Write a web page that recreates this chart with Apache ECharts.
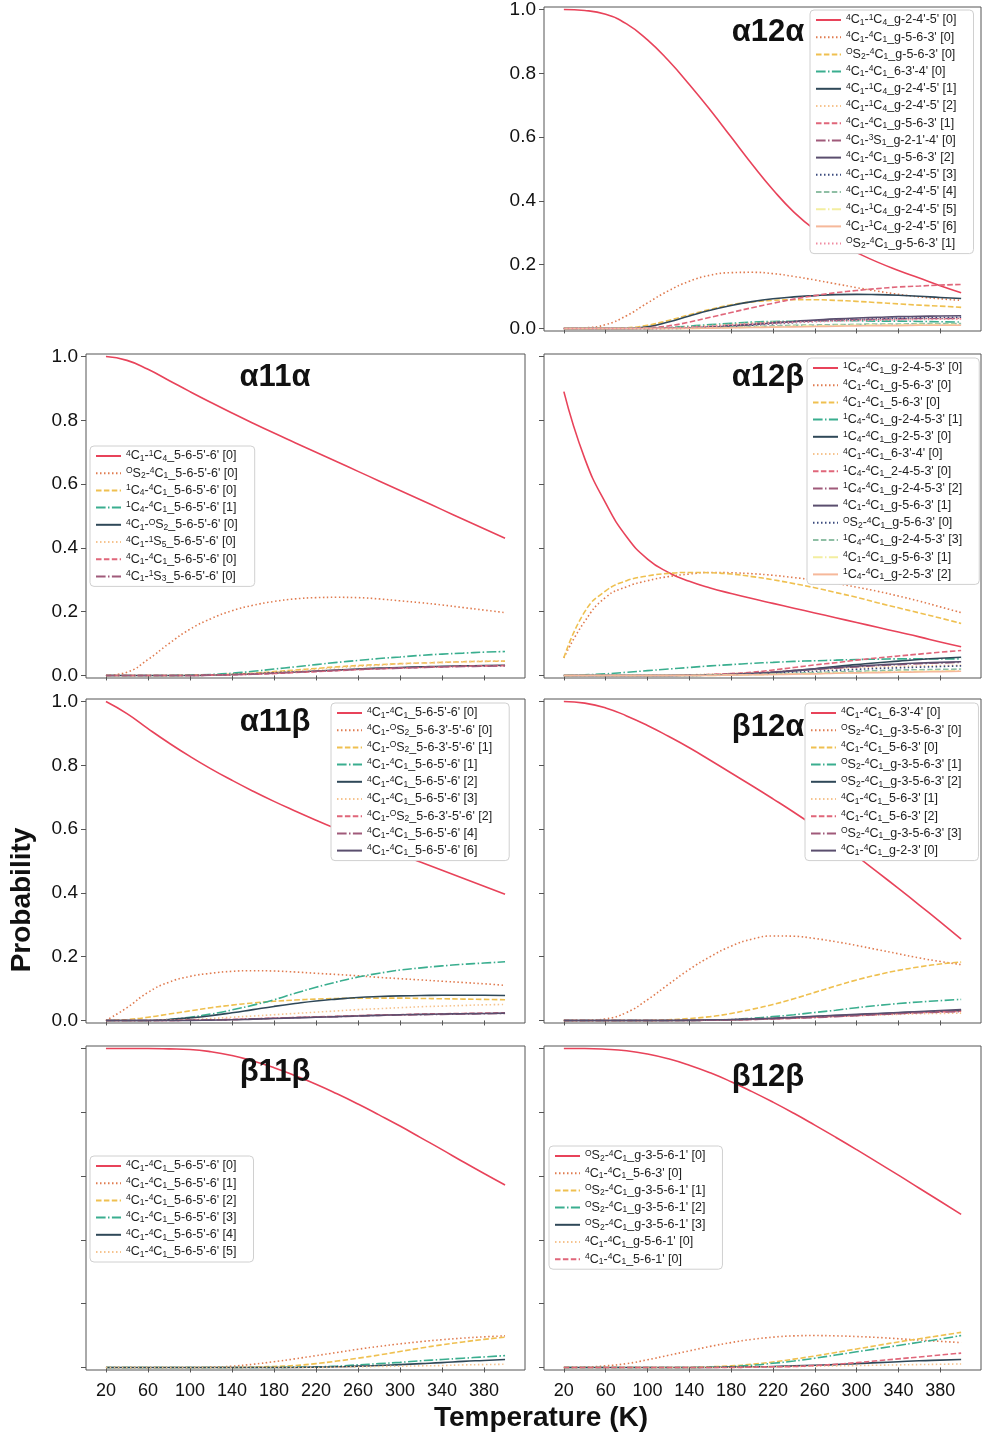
<!DOCTYPE html>
<html><head><meta charset="utf-8">
<script src="https://cdn.jsdelivr.net/npm/echarts@6/dist/echarts.min.js"></script>
<style>html,body{margin:0;padding:0;background:#fff}#c{width:983px;height:1437px}</style>
</head><body><div id="c"></div>
<script>
// ---------------- DATA ----------------
const TEMPS = [20,40,60,80,100,120,140,160,180,200,220,240,260,280,300,320,340,360,380,400];
const X_TICKS = [20,60,100,140,180,220,260,300,340,380];
const Y_TICKS = [0,0.2,0.4,0.6,0.8,1.0];
const PANEL_TITLES = ['α12α','α11α','α12β','α11β','β12α','β11β','β12β'];

const NAMES_A12A = ["⁴C₁-¹C₄_g-2-4'-5' [0]","⁴C₁-⁴C₁_g-5-6-3' [0]","ᴼS₂-⁴C₁_g-5-6-3' [0]","⁴C₁-⁴C₁_6-3'-4' [0]","⁴C₁-¹C₄_g-2-4'-5' [1]","⁴C₁-¹C₄_g-2-4'-5' [2]","⁴C₁-⁴C₁_g-5-6-3' [1]","⁴C₁-³S₁_g-2-1'-4' [0]","⁴C₁-⁴C₁_g-5-6-3' [2]","⁴C₁-¹C₄_g-2-4'-5' [3]","⁴C₁-¹C₄_g-2-4'-5' [4]","⁴C₁-¹C₄_g-2-4'-5' [5]","⁴C₁-¹C₄_g-2-4'-5' [6]","ᴼS₂-⁴C₁_g-5-6-3' [1]"];
const VALS_A12A = [
 [1.0,0.997,0.985,0.955,0.905,0.84,0.765,0.685,0.6,0.515,0.435,0.365,0.31,0.27,0.238,0.208,0.182,0.158,0.134,0.112],
 [0,0.002,0.012,0.04,0.08,0.118,0.148,0.167,0.175,0.176,0.172,0.163,0.152,0.14,0.128,0.117,0.107,0.099,0.093,0.088],
 [0,0,0,0.002,0.01,0.025,0.043,0.06,0.074,0.083,0.088,0.09,0.09,0.088,0.085,0.081,0.077,0.073,0.07,0.066],
 [0,0,0,0,0,0.003,0.007,0.012,0.016,0.02,0.022,0.023,0.024,0.024,0.024,0.023,0.023,0.022,0.021,0.02],
 [0,0,0,0,0.005,0.02,0.039,0.057,0.072,0.084,0.093,0.099,0.103,0.106,0.107,0.106,0.104,0.101,0.097,0.094],
 [0,0,0,0,0,0.002,0.005,0.009,0.013,0.017,0.02,0.022,0.024,0.026,0.027,0.028,0.029,0.03,0.03,0.031],
 [0,0,0,0,0.002,0.008,0.02,0.035,0.05,0.065,0.079,0.092,0.103,0.112,0.119,0.125,0.13,0.133,0.136,0.138],
 [0,0,0,0,0,0.001,0.003,0.006,0.01,0.014,0.018,0.021,0.024,0.026,0.028,0.029,0.03,0.031,0.031,0.032],
 [0,0,0,0,0,0.001,0.002,0.004,0.008,0.012,0.017,0.022,0.026,0.03,0.033,0.035,0.037,0.038,0.039,0.04],
 [0,0,0,0,0,0,0.001,0.003,0.006,0.01,0.014,0.018,0.022,0.025,0.028,0.03,0.032,0.033,0.034,0.035],
 [0,0,0,0,0,0,0.001,0.002,0.004,0.006,0.008,0.01,0.011,0.012,0.013,0.014,0.014,0.015,0.015,0.015],
 [0,0,0,0,0,0,0,0.001,0.002,0.004,0.005,0.007,0.008,0.009,0.01,0.011,0.011,0.012,0.012,0.012],
 [0,0,0,0,0,0,0,0.001,0.002,0.003,0.004,0.005,0.006,0.007,0.008,0.009,0.009,0.01,0.01,0.01],
 [0,0,0,0,0,0.001,0.003,0.006,0.01,0.013,0.016,0.019,0.021,0.023,0.025,0.026,0.027,0.028,0.029,0.03]
];

const NAMES_A11A = ["⁴C₁-¹C₄_5-6-5'-6' [0]","ᴼS₂-⁴C₁_5-6-5'-6' [0]","¹C₄-⁴C₁_5-6-5'-6' [0]","¹C₄-⁴C₁_5-6-5'-6' [1]","⁴C₁-ᴼS₂_5-6-5'-6' [0]","⁴C₁-¹S₅_5-6-5'-6' [0]","⁴C₁-⁴C₁_5-6-5'-6' [0]","⁴C₁-¹S₃_5-6-5'-6' [0]"];
const VALS_A11A = [
 [1.0,0.988,0.96,0.925,0.89,0.856,0.823,0.791,0.76,0.73,0.7,0.67,0.64,0.61,0.58,0.55,0.52,0.49,0.46,0.43],
 [0,0.01,0.05,0.1,0.145,0.178,0.203,0.22,0.232,0.24,0.244,0.245,0.244,0.24,0.234,0.228,0.221,0.213,0.205,0.197],
 [0,0,0,0,0.001,0.002,0.004,0.007,0.012,0.017,0.022,0.027,0.031,0.034,0.037,0.039,0.041,0.043,0.044,0.045],
 [0,0,0,0,0.001,0.003,0.007,0.013,0.02,0.027,0.034,0.041,0.047,0.053,0.058,0.063,0.067,0.07,0.073,0.075],
 [0,0,0,0,0,0.001,0.003,0.005,0.008,0.011,0.014,0.017,0.02,0.023,0.025,0.027,0.029,0.03,0.031,0.032],
 [0,0,0,0,0,0.001,0.003,0.006,0.01,0.014,0.019,0.024,0.028,0.032,0.036,0.039,0.041,0.043,0.045,0.046],
 [0,0,0,0,0,0.001,0.002,0.004,0.006,0.009,0.012,0.015,0.018,0.021,0.023,0.025,0.027,0.029,0.03,0.031],
 [0,0,0,0,0,0.001,0.002,0.004,0.007,0.01,0.013,0.016,0.019,0.021,0.023,0.025,0.027,0.028,0.029,0.03]
];

const NAMES_A12B = ["¹C₄-⁴C₁_g-2-4-5-3' [0]","⁴C₁-⁴C₁_g-5-6-3' [0]","⁴C₁-⁴C₁_5-6-3' [0]","¹C₄-⁴C₁_g-2-4-5-3' [1]","¹C₄-⁴C₁_g-2-5-3' [0]","⁴C₁-⁴C₁_6-3'-4' [0]","¹C₄-⁴C₁_2-4-5-3' [0]","¹C₄-⁴C₁_g-2-4-5-3' [2]","⁴C₁-⁴C₁_g-5-6-3' [1]","ᴼS₂-⁴C₁_g-5-6-3' [0]","¹C₄-⁴C₁_g-2-4-5-3' [3]","⁴C₁-⁴C₁_g-5-6-3' [1]","¹C₄-⁴C₁_g-2-5-3' [2]"];
const VALS_A12B = [
 [0.89,0.68,0.54,0.435,0.365,0.323,0.295,0.274,0.257,0.241,0.226,0.211,0.196,0.181,0.166,0.151,0.136,0.121,0.105,0.09],
 [0.055,0.17,0.245,0.278,0.297,0.31,0.318,0.323,0.322,0.319,0.314,0.307,0.299,0.289,0.277,0.264,0.249,0.233,0.215,0.197],
 [0.055,0.2,0.265,0.297,0.312,0.32,0.323,0.322,0.318,0.31,0.3,0.288,0.275,0.26,0.245,0.228,0.212,0.196,0.18,0.163],
 [0,0.002,0.005,0.01,0.015,0.02,0.025,0.03,0.034,0.038,0.041,0.044,0.046,0.048,0.05,0.051,0.052,0.052,0.052,0.052],
 [0,0,0,0,0,0,0.001,0.002,0.003,0.005,0.009,0.015,0.021,0.028,0.034,0.04,0.045,0.05,0.054,0.057],
 [0,0,0,0,0,0.001,0.002,0.004,0.006,0.009,0.012,0.015,0.018,0.021,0.024,0.026,0.028,0.03,0.031,0.032],
 [0,0,0,0,0,0,0.001,0.003,0.006,0.01,0.017,0.025,0.033,0.04,0.048,0.055,0.061,0.067,0.073,0.078],
 [0,0,0,0,0,0,0.001,0.002,0.004,0.007,0.011,0.015,0.019,0.023,0.027,0.031,0.034,0.037,0.039,0.041],
 [0,0,0,0,0,0,0,0.001,0.003,0.006,0.01,0.015,0.02,0.025,0.029,0.033,0.036,0.039,0.041,0.043],
 [0,0,0,0,0,0,0,0.001,0.002,0.004,0.007,0.01,0.013,0.016,0.019,0.022,0.024,0.026,0.028,0.03],
 [0,0,0,0,0,0,0,0.001,0.002,0.003,0.005,0.007,0.009,0.011,0.013,0.015,0.017,0.018,0.019,0.02],
 [0,0,0,0,0,0,0,0,0.001,0.002,0.003,0.005,0.006,0.008,0.009,0.011,0.012,0.013,0.014,0.015],
 [0,0,0,0,0,0,0,0,0.001,0.002,0.003,0.004,0.005,0.007,0.008,0.009,0.01,0.011,0.012,0.013]
];

const NAMES_A11B = ["⁴C₁-⁴C₁_5-6-5'-6' [0]","⁴C₁-ᴼS₂_5-6-3'-5'-6' [0]","⁴C₁-ᴼS₂_5-6-3'-5'-6' [1]","⁴C₁-⁴C₁_5-6-5'-6' [1]","⁴C₁-⁴C₁_5-6-5'-6' [2]","⁴C₁-⁴C₁_5-6-5'-6' [3]","⁴C₁-ᴼS₂_5-6-3'-5'-6' [2]","⁴C₁-⁴C₁_5-6-5'-6' [4]","⁴C₁-⁴C₁_5-6-5'-6' [6]"];
const VALS_A11B = [
 [1.0,0.962,0.915,0.87,0.828,0.789,0.753,0.719,0.687,0.657,0.628,0.6,0.573,0.547,0.521,0.496,0.471,0.446,0.421,0.396],
 [0,0.04,0.088,0.12,0.138,0.148,0.154,0.156,0.155,0.152,0.148,0.144,0.14,0.135,0.131,0.127,0.123,0.119,0.115,0.11],
 [0,0.003,0.01,0.02,0.03,0.04,0.048,0.055,0.06,0.064,0.067,0.069,0.07,0.07,0.07,0.069,0.068,0.067,0.066,0.065],
 [0,0,0,0.003,0.01,0.02,0.033,0.048,0.065,0.085,0.104,0.121,0.136,0.148,0.158,0.165,0.171,0.176,0.18,0.184],
 [0,0,0,0.003,0.008,0.015,0.024,0.034,0.044,0.053,0.061,0.067,0.072,0.075,0.077,0.078,0.079,0.079,0.079,0.078],
 [0,0,0,0.001,0.003,0.006,0.01,0.014,0.018,0.022,0.026,0.03,0.034,0.037,0.04,0.043,0.045,0.047,0.049,0.05],
 [0,0,0,0,0.001,0.002,0.003,0.005,0.007,0.009,0.011,0.013,0.015,0.017,0.018,0.02,0.021,0.022,0.023,0.024],
 [0,0,0,0,0.001,0.002,0.003,0.005,0.007,0.009,0.011,0.012,0.014,0.016,0.017,0.018,0.019,0.02,0.021,0.022],
 [0,0,0,0,0,0.001,0.002,0.004,0.006,0.008,0.01,0.012,0.014,0.016,0.018,0.019,0.02,0.021,0.022,0.023]
];

const NAMES_B12A = ["⁴C₁-⁴C₁_6-3'-4' [0]","ᴼS₂-⁴C₁_g-3-5-6-3' [0]","⁴C₁-⁴C₁_5-6-3' [0]","ᴼS₂-⁴C₁_g-3-5-6-3' [1]","ᴼS₂-⁴C₁_g-3-5-6-3' [2]","⁴C₁-⁴C₁_5-6-3' [1]","⁴C₁-⁴C₁_5-6-3' [2]","ᴼS₂-⁴C₁_g-3-5-6-3' [3]","⁴C₁-⁴C₁_g-2-3' [0]"];
const VALS_B12A = [
 [1.0,0.995,0.98,0.955,0.925,0.891,0.855,0.816,0.776,0.736,0.695,0.653,0.609,0.563,0.515,0.465,0.414,0.362,0.309,0.255],
 [0,0,0.005,0.025,0.065,0.113,0.16,0.2,0.233,0.255,0.265,0.264,0.257,0.247,0.235,0.222,0.209,0.196,0.185,0.175],
 [0,0,0,0,0,0.002,0.006,0.012,0.022,0.035,0.05,0.068,0.088,0.108,0.127,0.143,0.157,0.168,0.177,0.183],
 [0,0,0,0,0,0,0,0.001,0.003,0.007,0.012,0.018,0.025,0.032,0.04,0.047,0.053,0.058,0.062,0.066],
 [0,0,0,0,0,0,0,0.001,0.002,0.004,0.006,0.009,0.012,0.015,0.018,0.021,0.024,0.027,0.029,0.031],
 [0,0,0,0,0,0,0.001,0.002,0.003,0.005,0.007,0.009,0.011,0.013,0.015,0.017,0.019,0.021,0.022,0.023],
 [0,0,0,0,0,0,0,0.001,0.002,0.003,0.005,0.007,0.01,0.013,0.016,0.019,0.022,0.025,0.027,0.029],
 [0,0,0,0,0,0,0,0.001,0.002,0.003,0.005,0.007,0.009,0.012,0.015,0.018,0.021,0.024,0.026,0.028],
 [0,0,0,0,0,0,0.001,0.002,0.003,0.005,0.007,0.01,0.013,0.016,0.019,0.022,0.025,0.028,0.031,0.034]
];

const NAMES_B11B = ["⁴C₁-⁴C₁_5-6-5'-6' [0]","⁴C₁-⁴C₁_5-6-5'-6' [1]","⁴C₁-⁴C₁_5-6-5'-6' [2]","⁴C₁-⁴C₁_5-6-5'-6' [3]","⁴C₁-⁴C₁_5-6-5'-6' [4]","⁴C₁-⁴C₁_5-6-5'-6' [5]"];
const VALS_B11B = [
 [1.0,1.0,1.0,0.999,0.997,0.99,0.978,0.961,0.94,0.915,0.888,0.858,0.826,0.792,0.757,0.72,0.683,0.645,0.608,0.572],
 [0,0,0,0,0,0.001,0.004,0.01,0.018,0.027,0.037,0.047,0.057,0.066,0.074,0.081,0.087,0.092,0.096,0.099],
 [0,0,0,0,0,0,0,0.001,0.003,0.006,0.012,0.02,0.029,0.039,0.05,0.061,0.071,0.08,0.088,0.095],
 [0,0,0,0,0,0,0,0,0,0.001,0.002,0.004,0.008,0.012,0.016,0.021,0.025,0.029,0.033,0.037],
 [0,0,0,0,0,0,0,0,0,0,0.001,0.002,0.004,0.006,0.009,0.012,0.015,0.019,0.022,0.025],
 [0,0,0,0,0,0,0,0,0,0,0,0.001,0.002,0.003,0.004,0.005,0.006,0.008,0.009,0.01]
];

const NAMES_B12B = ["ᴼS₂-⁴C₁_g-3-5-6-1' [0]","⁴C₁-⁴C₁_5-6-3' [0]","ᴼS₂-⁴C₁_g-3-5-6-1' [1]","ᴼS₂-⁴C₁_g-3-5-6-1' [2]","ᴼS₂-⁴C₁_g-3-5-6-1' [3]","⁴C₁-⁴C₁_g-5-6-1' [0]","⁴C₁-⁴C₁_5-6-1' [0]"];
const VALS_B12B = [
 [1.0,1.0,0.998,0.993,0.983,0.968,0.948,0.924,0.896,0.865,0.832,0.797,0.76,0.722,0.683,0.643,0.603,0.562,0.521,0.48],
 [0,0.001,0.005,0.012,0.024,0.038,0.052,0.066,0.078,0.088,0.095,0.099,0.1,0.099,0.097,0.094,0.09,0.086,0.082,0.078],
 [0,0,0,0,0,0,0,0.002,0.005,0.01,0.017,0.026,0.036,0.047,0.058,0.069,0.08,0.09,0.1,0.11],
 [0,0,0,0,0,0,0,0.001,0.003,0.007,0.013,0.02,0.029,0.039,0.049,0.059,0.069,0.079,0.089,0.1],
 [0,0,0,0,0,0,0,0,0.001,0.002,0.003,0.005,0.007,0.009,0.012,0.015,0.018,0.021,0.023,0.025],
 [0,0,0,0,0,0,0,0,0,0.001,0.002,0.003,0.004,0.005,0.006,0.007,0.008,0.009,0.01,0.011],
 [0,0,0,0,0,0,0,0,0,0.001,0.002,0.003,0.006,0.01,0.015,0.021,0.027,0.033,0.039,0.045]
];

// ---------------- STYLE / LAYOUT ----------------
const COLORS = ['#e8435a','#e07b4f','#efc050','#3aae8f','#2f4858','#f6c38e','#e0667a','#a05a7a','#5a4e6e','#3b4a7d','#8fbfa5','#f3eea0','#f6b89a','#f08aa0'];
const DASHES = ['solid',[1.5,2.5],[5.5,2.4],[9.6,2.4,1.5,2.4]];
const FONT = '"Liberation Sans", Arial, sans-serif';
const PANEL_H = 324;
const LAYOUT = [
  {left:544, top:7,    width:437, yLab:true,  xLab:false, tx:768, ty:32,   lg:[810,10]},
  {left:86,  top:354,  width:439, yLab:true,  xLab:false, tx:275, ty:377,  lg:[90,446]},
  {left:544, top:354,  width:437, yLab:false, xLab:false, tx:768, ty:377,  lg:[807,358]},
  {left:86,  top:699,  width:439, yLab:true,  xLab:false, tx:275, ty:722,  lg:[331,703]},
  {left:544, top:699,  width:437, yLab:false, xLab:false, tx:768, ty:727,  lg:[805,703]},
  {left:86,  top:1046, width:439, yLab:false, xLab:true,  tx:275, ty:1072, lg:[90,1156]},
  {left:544, top:1046, width:437, yLab:false, xLab:true,  tx:768, ty:1077, lg:[549,1146]}
];
const PANEL_NAMES = [NAMES_A12A,NAMES_A11A,NAMES_A12B,NAMES_A11B,NAMES_B12A,NAMES_B11B,NAMES_B12B];
const PANEL_VALS  = [VALS_A12A,VALS_A11A,VALS_A12B,VALS_A11B,VALS_B12A,VALS_B11B,VALS_B12B];

const SUP = {'⁴':'4','¹':'1','³':'3','ᴼ':'O'};
const SUB = {'₁':'1','₂':'2','₃':'3','₄':'4','₅':'5'};
function fmtName(name){
  name = name.replace(/\u200b/g,'');
  let out = '', buf = '';
  const flush = () => { if (buf) { out += '{n|' + buf + '}'; buf = ''; } };
  for (const ch of name) {
    if (SUP[ch]) { flush(); out += '{sp|' + SUP[ch] + '}'; }
    else if (SUB[ch]) { flush(); out += '{sb|' + SUB[ch] + '}'; }
    else buf += ch;
  }
  flush();
  return out;
}

const grids = [], xAxes = [], yAxes = [], series = [], legends = [], graphics = [];
let uid = 0;
LAYOUT.forEach((L, p) => {
  grids.push({left:L.left, top:L.top, width:L.width, height:PANEL_H, show:true, borderColor:'#555', borderWidth:1, backgroundColor:'transparent'});
  xAxes.push({type:'value', gridIndex:p, min:1, max:419,
    axisLine:{show:false}, splitLine:{show:false},
    axisTick:{show:true, customValues:X_TICKS, length:5, lineStyle:{color:'#555'}},
    axisLabel:{show:L.xLab, customValues:X_TICKS, fontSize:18, color:'#111', fontFamily:FONT, margin:12}});
  yAxes.push({type:'value', gridIndex:p, min:-0.008, max:1.008,
    axisLine:{show:false}, splitLine:{show:false},
    axisTick:{show:true, customValues:Y_TICKS, length:5, lineStyle:{color:'#555'}},
    axisLabel:{show:L.yLab, customValues:Y_TICKS, fontSize:19, color:'#111', fontFamily:FONT, margin:8,
      formatter: v => Number(v).toFixed(1)}});
  const names = PANEL_NAMES[p], vals = PANEL_VALS[p];
  const legendData = [];
  names.forEach((nm, k) => {
    uid++;
    const sname = nm + '\u200b'.repeat(uid);
    legendData.push(sname);
    series.push({type:'line', name:sname, xAxisIndex:p, yAxisIndex:p,
      data: TEMPS.map((t, i) => [t, vals[k][i]]),
      showSymbol:false, symbol:'none', smooth:0.5,
      color: COLORS[k % COLORS.length],
      lineStyle:{width:1.6, color:COLORS[k % COLORS.length], type:DASHES[k % 4]},
      emphasis:{disabled:true}, silent:true, animation:false});
  });
  legends.push({orient:'vertical', left:L.lg[0], top:L.lg[1], data:legendData,
    selectedMode:false, itemWidth:25, itemHeight:12, itemGap:3.2,
    padding:[3,17,3,5], backgroundColor:'#fff', borderColor:'#d0d0d0', borderWidth:1, borderRadius:4,
    itemStyle:{opacity:0},
    formatter: fmtName,
    textStyle:{color:'#222', fontFamily:FONT, fontSize:12.5,
      rich:{n:{fontSize:12.5, lineHeight:14, fontFamily:FONT, color:'#222'},
            sp:{fontSize:8.5, lineHeight:8, verticalAlign:'top', fontFamily:FONT, color:'#222'},
            sb:{fontSize:8.5, lineHeight:8, verticalAlign:'bottom', fontFamily:FONT, color:'#222'}}}});
  graphics.push({type:'text', x:L.tx, y:L.ty, z:100,
    style:{text:PANEL_TITLES[p], fontSize:31, fontWeight:'bold', fontFamily:FONT, fill:'#111',
      textAlign:'center', textVerticalAlign:'middle', align:'center', verticalAlign:'middle'}});
});
graphics.push({type:'text', x:22, y:900, rotation:Math.PI/2, z:100,
  style:{text:'Probability', fontSize:28, fontWeight:'bold', fontFamily:FONT, fill:'#111',
    textAlign:'center', textVerticalAlign:'middle', align:'center', verticalAlign:'middle'}});
graphics.push({type:'text', x:541, y:1418, z:100,
  style:{text:'Temperature (K)', fontSize:28, fontWeight:'bold', fontFamily:FONT, fill:'#111',
    textAlign:'center', textVerticalAlign:'middle', align:'center', verticalAlign:'middle'}});

const chart = echarts.init(document.getElementById('c'), null, {renderer:'canvas'});
chart.setOption({animation:false, backgroundColor:'#fff', grid:grids, xAxis:xAxes, yAxis:yAxes,
  series:series, legend:legends, graphic:graphics, tooltip:{show:false}});
</script>
</body></html>
